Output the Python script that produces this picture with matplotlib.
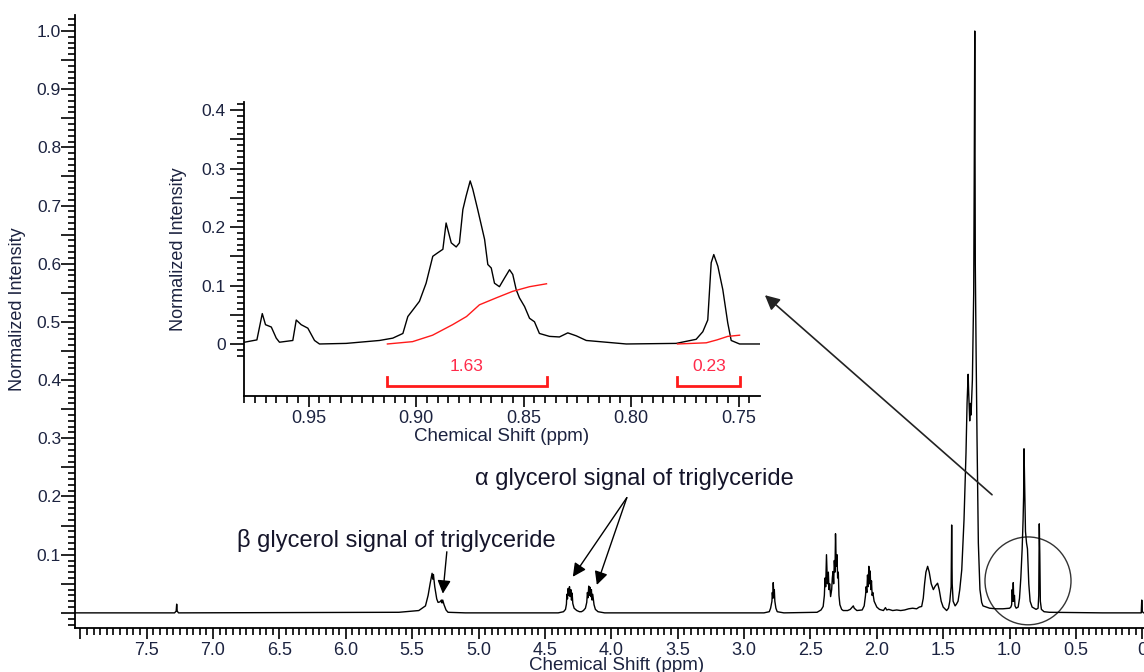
import matplotlib
matplotlib.use('Agg')
import matplotlib.pyplot as plt
from matplotlib.patches import Ellipse
from matplotlib.ticker import FixedLocator
import numpy as np

plt.rcParams['font.family'] = ['Liberation Sans', 'DejaVu Sans']

# full 1H spectrum (ppm, normalized intensity)
shift = [8.04, 7.29, 7.278, 7.274, 7.270, 7.26, 5.60, 5.45, 5.40, 5.38, 5.365, 5.355, 5.35, 5.345,
         5.34, 5.33, 5.315, 5.305, 5.29, 5.28, 5.275, 5.27, 5.26, 5.245, 5.23, 5.10, 4.40, 4.36,
         4.345, 4.338, 4.335, 4.330, 4.325, 4.320, 4.315, 4.31, 4.305, 4.30, 4.295, 4.29, 4.28,
         4.26, 4.24, 4.225, 4.21, 4.195, 4.185, 4.18, 4.175, 4.17, 4.165, 4.16, 4.155, 4.15,
         4.145, 4.14, 4.13, 4.12, 4.10, 4.05, 2.85, 2.81, 2.80, 2.79, 2.787, 2.783, 2.78, 2.776,
         2.772, 2.768, 2.76, 2.75, 2.70, 2.45, 2.42, 2.404, 2.395, 2.39, 2.385, 2.379, 2.372,
         2.365, 2.36, 2.355, 2.348, 2.34, 2.335, 2.33, 2.325, 2.32, 2.315, 2.311, 2.305, 2.30,
         2.295, 2.29, 2.285, 2.278, 2.265, 2.253, 2.22, 2.20, 2.185, 2.177, 2.17, 2.15, 2.11,
         2.095, 2.085, 2.08, 2.075, 2.07, 2.065, 2.06, 2.055, 2.05, 2.045, 2.04, 2.035, 2.03,
         2.02, 2.00, 1.98, 1.95, 1.935, 1.925, 1.91, 1.88, 1.85, 1.82, 1.79, 1.76, 1.73, 1.70,
         1.68, 1.662, 1.65, 1.64, 1.63, 1.617, 1.605, 1.59, 1.574, 1.56, 1.542, 1.53, 1.515,
         1.50, 1.474, 1.46, 1.45, 1.44, 1.436, 1.432, 1.425, 1.41, 1.40, 1.388, 1.375, 1.36,
         1.343, 1.328, 1.32, 1.312, 1.308, 1.30, 1.295, 1.29, 1.28, 1.27, 1.266, 1.262, 1.258,
         1.252, 1.245, 1.235, 1.223, 1.21, 1.20, 1.15, 1.10, 1.05, 1.00, 0.99, 0.984, 0.98,
         0.976, 0.972, 0.968, 0.963, 0.959, 0.95, 0.935, 0.925, 0.915, 0.905, 0.898, 0.894,
         0.891, 0.886, 0.88, 0.872, 0.865, 0.855, 0.845, 0.83, 0.80, 0.785, 0.78, 0.776, 0.772,
         0.768, 0.76, 0.74, 0.70, 0.30, 0.02, 0.008, 0.004, 0.0, -0.01, -0.06]
intensity = [0, 0, 0.003, 0.015, 0.003, 0, 0.001, 0.004, 0.012, 0.03, 0.05, 0.062, 0.068, 0.058,
             0.066, 0.045, 0.024, 0.018, 0.019, 0.022, 0.017, 0.022, 0.014, 0.005, 0.001, 0, 0, 0.002,
             0.006, 0.015, 0.032, 0.024, 0.042, 0.030, 0.045, 0.028, 0.040, 0.022, 0.034, 0.016, 0.008,
             0.004, 0.002, 0.002, 0.004, 0.008, 0.018, 0.035, 0.026, 0.046, 0.030, 0.044, 0.028, 0.040,
             0.022, 0.032, 0.014, 0.006, 0.002, 0, 0, 0.002, 0.008, 0.02, 0.035, 0.025, 0.052, 0.03,
             0.040, 0.02, 0.008, 0.002, 0, 0.001, 0.005, 0.011, 0.03, 0.06, 0.045, 0.10, 0.05,
             0.07, 0.04, 0.05, 0.028, 0.04, 0.06, 0.071, 0.05, 0.09, 0.07, 0.136, 0.08, 0.10,
             0.06, 0.07, 0.03, 0.014, 0.006, 0.004, 0.004, 0.006, 0.01, 0.012, 0.008, 0.004, 0.005,
             0.012, 0.03, 0.045, 0.035, 0.065, 0.045, 0.08, 0.05, 0.072, 0.04, 0.055, 0.03, 0.035,
             0.02, 0.01, 0.006, 0.004, 0.009, 0.005, 0.006, 0.004, 0.005, 0.004, 0.005, 0.007, 0.008, 0.007,
             0.01, 0.011, 0.025, 0.05, 0.07, 0.08, 0.07, 0.05, 0.04, 0.046, 0.051, 0.04, 0.02,
             0.01, 0.004, 0.008, 0.02, 0.045, 0.151, 0.05, 0.02, 0.012, 0.015, 0.02, 0.04, 0.074,
             0.16, 0.275, 0.36, 0.41, 0.38, 0.33, 0.36, 0.34, 0.40, 0.55, 0.75, 1.0, 0.6,
             0.45, 0.30, 0.12, 0.04, 0.018, 0.012, 0.008, 0.007, 0.007, 0.008, 0.01, 0.014, 0.04,
             0.02, 0.052, 0.02, 0.03, 0.012, 0.008, 0.01, 0.025, 0.06, 0.11, 0.16, 0.2,
             0.282, 0.22, 0.14, 0.12, 0.11, 0.05, 0.02, 0.01, 0.006, 0.008, 0.03, 0.153, 0.10,
             0.02, 0.006, 0.002, 0.001, 0, 0, 0, 0.022, 0.002, 0, 0]

# expanded 0.98 - 0.74 ppm region
inset_shift = [0.9798, 0.9740, 0.9715, 0.9700, 0.9673, 0.9650, 0.9635, 0.9573, 0.9557, 0.9534,
               0.9503, 0.9472, 0.9449, 0.9325, 0.9170, 0.9108, 0.9061, 0.9038, 0.9015, 0.8984,
               0.8953, 0.8922, 0.8899, 0.8875, 0.8860, 0.8836, 0.8813, 0.8798, 0.8782, 0.8767,
               0.8748, 0.8736, 0.8713, 0.8681, 0.8666, 0.8650, 0.8635, 0.8612, 0.8588, 0.8565,
               0.8550, 0.8534, 0.8519, 0.8495, 0.8472, 0.8449, 0.8426, 0.8379, 0.8333, 0.8294,
               0.8255, 0.8208, 0.8022, 0.7790, 0.7697, 0.7666, 0.7643, 0.7627, 0.7615, 0.7596,
               0.7573, 0.7550, 0.7534, 0.7495, 0.7402]
inset_intensity = [0.003, 0.007, 0.052, 0.033, 0.029, 0.010, 0.003, 0.006, 0.041, 0.033,
                   0.027, 0.006, 0.0, 0.001, 0.006, 0.010, 0.018, 0.047, 0.058, 0.073,
                   0.104, 0.150, 0.156, 0.162, 0.207, 0.173, 0.166, 0.173, 0.230, 0.253,
                   0.279, 0.265, 0.230, 0.179, 0.136, 0.130, 0.104, 0.098, 0.113, 0.127,
                   0.119, 0.093, 0.079, 0.064, 0.044, 0.038, 0.018, 0.013, 0.012, 0.019,
                   0.014, 0.006, 0.0, 0.001, 0.008, 0.021, 0.041, 0.139, 0.153, 0.133,
                   0.093, 0.036, 0.006, 0.0, 0.0]

# integral traces (red)
int1_shift = [0.9133, 0.9016, 0.8923, 0.8830, 0.8765, 0.8705, 0.8626, 0.8551, 0.8472, 0.8393]
int1_value = [0.0, 0.004, 0.015, 0.033, 0.047, 0.067, 0.079, 0.090, 0.098, 0.103]
int2_shift = [0.7784, 0.7650, 0.7600, 0.7550, 0.7495]
int2_value = [0.0, 0.002, 0.007, 0.013, 0.015]
integral_ranges = [(0.9133, 0.8393), (0.7784, 0.7491)]
integral_labels = ['1.63', '0.23']

main_xmajor = [8.0, 7.5, 7.0, 6.5, 6.0, 5.5, 5.0, 4.5, 4.0, 3.5, 3.0, 2.5, 2.0, 1.5, 1.0, 0.5, 0.0]
main_xlabels = ['', '7.5', '7.0', '6.5', '6.0', '5.5', '5.0', '4.5', '4.0', '3.5', '3.0', '2.5',
                '2.0', '1.5', '1.0', '0.5', '0']
main_ylabels = ['', '', '0.1', '', '0.2', '', '0.3', '', '0.4', '', '0.5', '', '0.6', '',
                '0.7', '', '0.8', '', '0.9', '', '1.0']
inset_xmajor = [0.95, 0.90, 0.85, 0.80, 0.75]
inset_xlabels = ['0.95', '0.90', '0.85', '0.80', '0.75']
inset_ylabels = ['0', '', '0.1', '', '0.2', '', '0.3', '', '0.4']

label_color = '#1c2340'
red = '#ff1a1a'
narrow = ['Liberation Sans Narrow', 'Liberation Sans', 'DejaVu Sans']
W, H = 1144, 672

fig = plt.figure(figsize=(W / 100, H / 100), dpi=100)

# ---- main spectrum
ax = fig.add_axes([75 / W, 44 / H, (1148 - 75) / W, (628 - 15) / H])
ax.plot(shift, intensity, color='black', lw=1.0)
ax.set_xlim(8.04, -0.043)
ax.set_ylim(-0.026, 1.0275)
for s in ['top', 'right']:
    ax.spines[s].set_visible(False)
ax.spines['left'].set_linewidth(1.3)
ax.spines['bottom'].set_linewidth(1.3)

ax.set_xticks(main_xmajor)
ax.set_xticklabels(main_xlabels)
ax.xaxis.set_minor_locator(FixedLocator(np.round(np.arange(0.0, 8.001, 0.05), 2)))
ax.set_yticks(np.round(np.arange(0, 1.0001, 0.05), 2))
ax.set_yticklabels(main_ylabels)
ax.yaxis.set_minor_locator(FixedLocator(np.round(np.arange(-0.02, 1.021, 0.01), 2)))
ax.tick_params(axis='x', which='major', direction='out', length=8, width=1.2, labelsize=13,
               labelcolor=label_color, pad=2)
ax.tick_params(axis='x', which='minor', direction='out', length=5, width=1.2)
ax.tick_params(axis='y', which='major', direction='out', length=10, width=1.2, labelsize=12.5,
               labelcolor=label_color, pad=0)
ax.tick_params(axis='y', which='minor', direction='out', length=5, width=1.2)
ax.set_xlabel('Chemical Shift (ppm)', fontsize=13.5, color=label_color)
ax.xaxis.set_label_coords((617 - 75) / (1148 - 75), -0.047)
ax.set_ylabel('Normalized Intensity', fontsize=13, color=label_color, family=narrow)
ax.yaxis.set_label_coords(-0.046, 0.52)

# annotations
ax.text(5.028, 0.230, '\u03b1 glycerol signal of triglyceride', fontsize=17,
        color='#15152a', ha='left', va='center')
ax.text(6.822, 0.125, '\u03b2 glycerol signal of triglyceride', fontsize=17,
        color='#15152a', ha='left', va='center')
arrow = dict(arrowstyle='-|>', color='black', lw=1.0, mutation_scale=20, shrinkA=0, shrinkB=0)
ax.annotate('', xy=(4.290, 0.062), xytext=(3.883, 0.198), arrowprops=arrow)
ax.annotate('', xy=(4.109, 0.048), xytext=(3.883, 0.198), arrowprops=arrow)
ax.annotate('', xy=(5.269, 0.033), xytext=(5.239, 0.105), arrowprops=arrow)
ax.annotate('', xy=(2.843, 0.546), xytext=(1.132, 0.203),
            arrowprops=dict(arrowstyle='-|>', color='#222222', lw=1.2, mutation_scale=22,
                            shrinkA=0, shrinkB=0))
ax.add_patch(Ellipse((0.861, 0.055), width=0.648, height=0.151, fill=False,
                     edgecolor='#333333', lw=1.0, clip_on=False))

# ---- inset (expansion of the methyl region)
ax2 = fig.add_axes([244 / W, (H - 396) / H, (760 - 244) / W, (396 - 102) / H])
ax2.patch.set_alpha(0)
ax2.plot(inset_shift, inset_intensity, color='black', lw=1.0)
ax2.plot(int1_shift, int1_value, color=red, lw=1.0)
ax2.plot(int2_shift, int2_value, color=red, lw=1.0)
for (x0, x1), lab in zip(integral_ranges, integral_labels):
    ax2.plot([x0, x0, x1, x1], [-0.057, -0.072, -0.072, -0.057], color=red, lw=2.0,
             solid_joinstyle='miter')
    ax2.text((x0 + x1) / 2, -0.038, lab, color='#ff2a4a', fontsize=12.5, ha='center', va='center')
ax2.set_xlim(0.980, 0.740)
ax2.set_ylim(-0.089, 0.414)
for s in ['top', 'right']:
    ax2.spines[s].set_visible(False)
ax2.spines['left'].set_linewidth(1.3)
ax2.spines['bottom'].set_linewidth(1.3)
ax2.set_xticks(inset_xmajor)
ax2.set_xticklabels(inset_xlabels)
ax2.xaxis.set_minor_locator(FixedLocator(np.round(np.arange(0.745, 0.9801, 0.005), 3)))
ax2.set_yticks(np.round(np.arange(0, 0.4001, 0.05), 2))
ax2.set_yticklabels(inset_ylabels)
ax2.yaxis.set_minor_locator(FixedLocator(np.round(np.arange(-0.02, 0.411, 0.01), 2)))
ax2.tick_params(axis='x', which='major', direction='out', length=8, width=1.2, labelsize=13,
                labelcolor=label_color, pad=2)
ax2.tick_params(axis='x', which='minor', direction='out', length=5, width=1.2)
ax2.tick_params(axis='y', which='major', direction='out', length=10, width=1.2, labelsize=12.5,
                labelcolor=label_color, pad=3)
ax2.tick_params(axis='y', which='minor', direction='out', length=5, width=1.2)
ax2.set_xlabel('Chemical Shift (ppm)', fontsize=13.5, color=label_color, labelpad=1)
ax2.set_ylabel('Normalized Intensity', fontsize=13, color=label_color, family=narrow)
ax2.yaxis.set_label_coords(-0.11, 0.5)

fig.savefig('out.png', dpi=100)
